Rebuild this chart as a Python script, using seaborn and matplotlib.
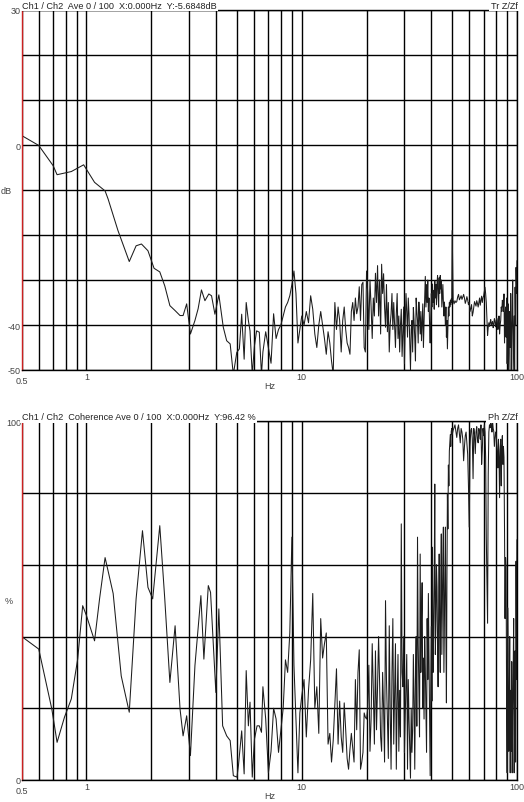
import matplotlib
matplotlib.use("Agg")
import matplotlib.pyplot as plt
import matplotlib.ticker as mticker
import numpy as np
import pandas as pd
import seaborn as sns

# Transfer function Z/Zf (dB) and coherence (%).
# low band: vertices as drawn
tr_freq_low = [0.5, 0.6, 0.7, 0.73, 0.85, 0.97, 1.09, 1.22, 1.26, 1.40,
               1.58, 1.70, 1.80, 1.93, 2.06, 2.19, 2.31, 2.44, 2.58, 2.72,
               2.81, 2.92, 3.04, 3.19, 3.30, 3.42, 3.55, 3.70, 3.81, 3.95,
               4.12, 4.32, 4.48, 4.65, 4.81, 4.99, 5.13, 5.26, 5.40, 5.52,
               5.65, 5.75, 5.89, 6.03, 6.17, 6.35, 6.50]
tr_db_low = [2.1, -0.1, -4.6, -6.6, -5.9, -4.4, -8.3, -10.2, -12.0, -19.0,
             -25.9, -22.4, -22.0, -23.5, -27.4, -28.2, -31.3, -35.7, -36.8, -37.9,
             -37.9, -35.3, -42.0, -39.0, -36.4, -32.2, -34.6, -33.1, -33.5, -37.6,
             -33.3, -40.5, -43.5, -44.2, -51.0, -46.1, -45.3, -37.6, -47.6, -35.0,
             -39.0, -41.3, -51.0, -44.6, -41.3, -41.6, -51.0]

coh_freq_low = [0.5, 0.6, 0.69, 0.73, 0.79, 0.85, 0.91, 0.96, 1.0, 1.09,
                1.15, 1.22, 1.33, 1.45, 1.58, 1.70, 1.82, 1.93, 2.03, 2.19,
                2.31, 2.44, 2.58, 2.72, 2.81, 2.92, 3.04, 3.19, 3.40, 3.51,
                3.68, 3.77, 3.99, 4.12, 4.29, 4.48, 4.65, 4.81, 5.00, 5.08,
                5.26, 5.40, 5.52, 5.65, 5.75, 5.89, 6.03, 6.20, 6.35, 6.50]
coh_pct_low = [40.0, 36.5, 19.8, 10.5, 17.5, 22.6, 33.7, 48.6, 45.8, 38.8,
               50.5, 62.0, 52.0, 29.0, 18.9, 50.5, 69.5, 53.7, 50.5, 70.9,
               50.5, 27.2, 43.0, 19.8, 12.3, 17.9, 6.8, 31.9, 51.4, 33.7,
               54.2, 52.3, 24.4, 47.7, 15.1, 12.3, 11.0, 1.2, 0.8, 4.0,
               13.7, 1.7, 30.5, 15.1, 21.7, 0.8, 11.4, 15.1, 15.1, 13.3]

# upper band: shared frequency bins
freq_a = [6.6, 6.8, 7.0, 7.2, 7.4, 7.6, 7.8, 8.0, 8.2, 8.4,
          8.6, 8.8, 9.0, 9.2, 9.4, 9.6, 9.8, 10.0]
freq_b = [10.25, 10.5, 10.75, 11.0, 11.25, 11.5, 11.75, 12.0, 12.25, 12.5,
          12.75, 13.0, 13.25, 13.5, 13.75, 14.0, 14.25, 14.5, 14.75, 15.0,
          15.25, 15.5, 15.75, 16.0, 16.25, 16.5, 16.75, 17.0, 17.25, 17.5,
          17.75, 18.0, 18.25, 18.5, 18.75, 19.0, 19.25, 19.5, 19.75, 20.0]
freq_c = [20.25, 20.5, 20.75, 21.0, 21.25, 21.5, 21.75, 22.0,
          22.25, 22.5, 22.75, 23.0, 23.25, 23.5, 23.75, 24.0,
          24.25, 24.5, 24.75, 25.0, 25.25, 25.5, 25.75, 26.0,
          26.25, 26.5, 26.75, 27.0, 27.25, 27.5, 27.75, 28.0,
          28.25, 28.5, 28.75, 29.0, 29.25, 29.5, 29.75, 30.0,
          30.25, 30.5, 30.75, 31.0, 31.25, 31.5, 31.75, 32.0,
          32.25, 32.5, 32.75, 33.0, 33.25, 33.5, 33.75, 34.0,
          34.25, 34.5, 34.75, 35.0, 35.25, 35.5, 35.75, 36.0,
          36.25, 36.5, 36.75, 37.0, 37.25, 37.5, 37.75, 38.0,
          38.25, 38.5, 38.75, 39.0, 39.25, 39.5, 39.75, 40.0,
          40.25, 40.5, 40.75, 41.0, 41.25, 41.5, 41.75, 42.0,
          42.25, 42.5, 42.75, 43.0, 43.25, 43.5, 43.75, 44.0,
          44.25, 44.5, 44.75, 45.0, 45.25, 45.5, 45.75, 46.0,
          46.25, 46.5, 46.75, 47.0, 47.25, 47.5, 47.75, 48.0,
          48.25, 48.5, 48.75, 49.0, 49.25, 49.5, 49.75, 50.0]
freq_d = [50.5, 51, 51.5, 52, 52.5, 53, 53.5, 54, 54.5, 55,
          55.5, 56, 56.5, 57, 57.5, 58, 58.5, 59, 59.5, 60,
          60.5, 61, 61.5, 62, 62.5, 63, 63.5, 64, 64.5, 65,
          65.5, 66, 66.5, 67, 67.5, 68, 68.5, 69, 69.5, 70,
          70.5, 71, 71.5, 72, 72.5, 73, 73.5, 74, 74.5, 75,
          75.5, 76, 76.5, 77, 77.5, 78, 78.5, 79, 79.5, 80,
          80.5, 81, 81.5, 82, 82.5, 83, 83.5, 84, 84.5, 85,
          85.5, 86, 86.5, 87, 87.5, 88, 88.5, 89, 89.5, 90,
          90.5, 91, 91.5, 92, 92.5, 93, 93.5, 94, 94.5, 95,
          95.5, 96, 96.5, 97, 97.5, 98, 98.5, 99, 99.5, 100]

tr_db_a = [-46.0, -41.5, -45.0, -48.5, -37.5, -43.0, -41.0, -40.0, -38.0, -36.0,
           -35.0, -33.5, -31.0, -28.0, -33.0, -44.0, -41.0, -38.0]
tr_db_b = [-40.0, -37.0, -39.5, -33.5, -36.5, -42.0, -45.0, -40.0, -37.0, -40.0,
           -43.0, -46.5, -41.5, -44.0, -48.0, -51.0, -35.0, -41.0, -36.0, -39.0,
           -46.0, -39.0, -36.0, -41.0, -44.0, -45.0, -46.5, -37.0, -35.0, -39.0,
           -34.0, -37.5, -36.0, -31.5, -39.0, -31.0, -30.5, -45.0, -46.0, -28.0]
tr_db_c = [-33.0, -41.0, -30.0, -36.0, -43.0, -34.0, -38.0, -28.5,
           -35.0, -26.8, -38.0, -30.0, -42.0, -26.5, -33.0, -28.6,
           -36.0, -40.5, -31.0, -41.5, -35.0, -46.0, -40.0, -37.5,
           -33.0, -41.0, -35.0, -40.0, -45.0, -37.5, -33.0, -43.0,
           -38.0, -46.0, -40.0, -36.5, -47.0, -42.0, -36.0, -48.6,
           -40.0, -33.0, -37.0, -42.7, -34.0, -37.5, -44.0, -50.0,
           -41.0, -39.0, -46.0, -36.1, -39.0, -43.0, -48.0, -34.0,
           -37.0, -39.0, -44.0, -34.9, -38.0, -42.0, -37.0, -43.5,
           -39.0, -35.3, -45.0, -39.0, -34.0, -29.2, -36.0, -31.0,
           -35.0, -30.0, -37.0, -34.0, -40.0, -44.0, -38.0, -33.0,
           -36.0, -30.9, -35.0, -32.3, -36.5, -30.2, -34.0, -31.0,
           -35.5, -30.9, -29.0, -33.0, -36.0, -29.5, -33.0, -29.0,
           -32.0, -30.0, -36.0, -33.5, -31.0, -35.0, -38.0, -34.9,
           -37.0, -40.0, -36.0, -42.7, -39.0, -45.3, -41.0, -36.0,
           -38.0, -35.0, -36.0, -34.6, -35.5, -34.2, -35.0, -19.0]
tr_db_d = [-34.5, -35.3, -34.6, -35.0, -34.8, -33.8, -33.2, -34.4, -34.0, -33.5,
           -34.3, -33.8, -33.2, -34.0, -35.2, -34.6, -33.7, -34.4, -35.5, -35.0,
           -37.0, -36.3, -35.5, -38.0, -37.2, -36.0, -34.8, -35.3, -35.8, -34.6,
           -35.2, -36.0, -35.0, -34.0, -35.6, -34.5, -33.6, -35.0, -34.0, -33.5,
           -32.5, -31.6, -33.0, -35.0, -39.0, -42.3, -40.5, -39.5, -40.3, -39.4,
           -38.8, -40.0, -39.6, -39.2, -40.6, -39.8, -38.6, -39.0, -40.4, -39.6,
           -38.5, -39.0, -41.0, -40.0, -38.0, -42.0, -40.0, -39.0, -36.0, -37.0,
           -34.5, -35.3, -37.0, -33.1, -44.0, -38.0, -36.0, -42.7, -34.0, -48.6,
           -40.0, -35.3, -51.0, -46.4, -37.0, -45.0, -33.0, -51.0, -42.0, -36.8,
           -30.0, -51.0, -44.0, -38.0, -51.0, -31.6, -40.0, -27.2, -33.0, -25.7]

coh_pct_a = [26.0, 17.0, 2.0, 8.0, 20.0, 17.0, 7.7, 14.0, 20.0, 33.5,
             30.0, 41.0, 67.7, 32.0, 17.0, 2.0, 18.7, 23.4]
coh_pct_b = [28.0, 12.0, 25.0, 33.5, 52.0, 20.0, 26.0, 13.0, 45.0, 34.0,
             38.0, 41.0, 10.0, 13.0, 5.0, 11.0, 21.0, 31.0, 10.0, 22.0,
             12.0, 7.7, 21.5, 14.0, 6.0, 3.0, 8.6, 13.0, 9.0, 5.0,
             28.0, 14.0, 30.0, 36.3, 3.0, 5.0, 7.7, 18.7, 17.5, 17.0]
coh_pct_c = [20.0, 32.0, 8.0, 17.0, 38.0, 25.0, 10.0, 36.0,
             14.0, 26.0, 40.0, 27.0, 12.0, 8.0, 30.0, 20.0,
             5.0, 50.0, 28.0, 17.0, 6.0, 43.0, 20.0, 3.0,
             30.0, 45.0, 10.0, 24.0, 38.0, 3.0, 22.0, 35.0,
             8.0, 25.0, 12.0, 71.4, 30.0, 26.0, 40.0, 7.7,
             18.0, 26.0, 35.0, 3.0, 28.0, 17.0, 9.0, 0.5,
             20.0, 7.7, 14.0, 35.0, 22.0, 3.0, 28.0, 40.0,
             15.0, 67.7, 38.0, 26.0, 12.0, 63.0, 30.0, 44.6,
             55.0, 20.0, 34.0, 17.0, 40.0, 31.0, 20.0, 7.7,
             45.0, 28.0, 52.0, 35.0, 18.0, 1.2, 25.0, 42.8,
             22.0, 64.9, 30.0, 40.0, 55.0, 82.5, 35.0, 44.6,
             60.0, 53.8, 38.0, 26.0, 48.0, 63.0, 40.0, 30.0,
             55.0, 68.6, 35.0, 49.3, 62.0, 70.5, 30.0, 45.0,
             58.0, 70.5, 40.0, 21.5, 55.0, 79.7, 70.0, 87.8,
             82.0, 91.7, 94.0, 96.3, 93.0, 97.2, 98.0, 96.3]
coh_pct_d = [97.5, 98.2, 99.0, 97.2, 95.5, 98.0, 99.0, 96.5, 94.0, 98.0,
             97.0, 95.0, 89.0, 93.0, 96.0, 97.0, 94.0, 90.8, 82.0, 70.5,
             93.0, 97.5, 98.0, 95.0, 84.0, 98.0, 96.0, 91.0, 97.0, 98.5,
             95.0, 94.0, 98.0, 97.0, 95.0, 99.0, 88.0, 92.0, 98.0, 96.0,
             99.0, 97.0, 90.0, 67.7, 55.0, 43.7, 85.0, 97.0, 99.0, 98.2,
             100.0, 99.0, 97.0, 100.0, 98.0, 97.2, 93.0, 95.0, 97.0, 96.5,
             94.0, 91.0, 87.0, 95.0, 90.0, 78.7, 92.0, 95.0, 82.0, 93.0,
             96.0, 88.0, 93.0, 90.0, 70.0, 45.0, 62.0, 59.0, 20.0, 2.0,
             48.0, 35.0, 8.0, 17.0, 40.0, 2.0, 25.0, 8.0, 33.0, 2.0,
             18.0, 30.0, 45.0, 2.0, 22.0, 36.0, 5.0, 61.0, 28.0, 67.0]

grid_freqs = [0.5, 0.6, 0.7, 0.8, 0.9, 1, 2, 3, 4, 5, 6, 7, 8, 9,
              10, 20, 30, 40, 50, 60, 70, 80, 90, 100]
x_labels = {1: "1", 10: "10", 100: "100"}

freq_hi = freq_a + freq_b + freq_c + freq_d
tr = pd.DataFrame({"Hz": tr_freq_low + freq_hi,
                   "dB": tr_db_low + tr_db_a + tr_db_b + tr_db_c + tr_db_d})
coh = pd.DataFrame({"Hz": coh_freq_low + freq_hi,
                    "pct": coh_pct_low + coh_pct_a + coh_pct_b + coh_pct_c + coh_pct_d})

sns.set_style("white")
plt.rcParams["font.family"] = ["Liberation Sans", "DejaVu Sans"]

W, H = 524, 803
fig = plt.figure(figsize=(W / 100, H / 100), dpi=100)
ax_tr = fig.add_axes([21.7 / W, 1 - 371 / H, 495.3 / W, 360 / H])
ax_coh = fig.add_axes([21.7 / W, 1 - 781 / H, 495.3 / W, 358.7 / H])

sns.lineplot(data=tr, x="Hz", y="dB", ax=ax_tr, color="#1c1c1c", lw=0.75,
             estimator=None, sort=False)
sns.lineplot(data=coh, x="Hz", y="pct", ax=ax_coh, color="#1c1c1c", lw=0.75,
             estimator=None, sort=False)


def style(ax, ylim, yticks, ylabels, unit, unit_x, head, tag):
    ax.set_xscale("log")
    ax.set_xlim(0.5, 100)
    ax.set_ylim(*ylim)
    ax.xaxis.set_minor_locator(mticker.NullLocator())
    ax.set_xticks(grid_freqs, labels=[x_labels.get(f, "") for f in grid_freqs])
    ax.set_yticks(yticks, labels=[ylabels.get(v, "") for v in yticks])
    ax.set_xlabel("")
    ax.set_ylabel("")
    ax.tick_params(length=0, labelsize=6.5, labelcolor="#444444")
    ax.tick_params(axis="x", pad=1.2)
    ax.tick_params(axis="y", pad=0.6)
    ax.grid(True, color="black", lw=1.0)
    for s in ax.spines.values():
        s.set_color("black")
        s.set_linewidth(1.0)
    ax.spines["left"].set_color("#cc2020")
    ax.annotate("0.5", xy=(0.5, 0), xycoords=("data", "axes fraction"),
                xytext=(0, -7.7), textcoords="offset points",
                ha="center", va="center", fontsize=6.5, color="#444444")
    ax.annotate("Hz", xy=(269.5 / W, 0), xycoords=("figure fraction", "axes fraction"),
                xytext=(0, -11.3), textcoords="offset points",
                ha="center", va="center", fontsize=6.5, color="#444444")
    ax.annotate(unit, xy=(unit_x / W, 0.5), xycoords=("figure fraction", "axes fraction"),
                ha="left", va="center", fontsize=6.5, color="#444444")
    top = ax.get_position().y1
    box = dict(facecolor="white", edgecolor="none", pad=1.2)
    fig.text(21.5 / W, top + 4.8 / H, head, ha="left", va="center",
             fontsize=6.6, color="#222222", bbox=box)
    fig.text(517.5 / W, top + 4.8 / H, tag, ha="right", va="center",
             fontsize=6.6, color="#222222", bbox=box)


style(ax_tr, (-50, 30), list(range(-50, 31, 10)),
      {30: "30", 0: "0", -40: "-40", -50: "-50"}, "dB", 0.5,
      "Ch1 / Ch2  Ave 0 / 100  X:0.000Hz  Y:-5.6848dB", "Tr Z/Zf")
style(ax_coh, (0, 100), list(range(0, 101, 20)),
      {100: "100", 0: "0"}, "%", 5,
      "Ch1 / Ch2  Coherence Ave 0 / 100  X:0.000Hz  Y:96.42 %", "Ph Z/Zf")

fig.savefig("out.png", dpi=100, facecolor="white")
